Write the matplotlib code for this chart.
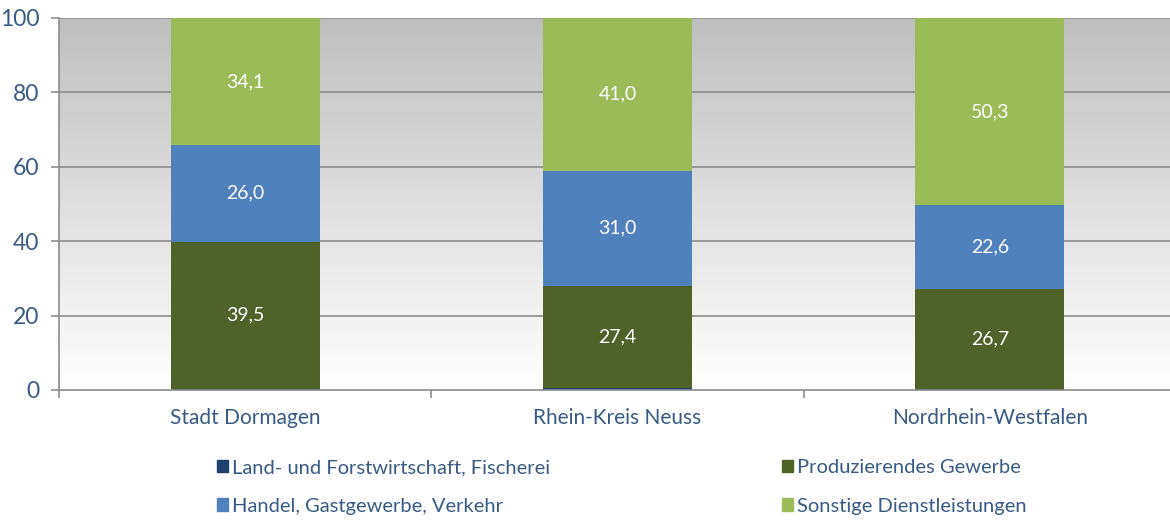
import numpy as np
import matplotlib
matplotlib.use("Agg")
import matplotlib.pyplot as plt
from matplotlib.patches import Patch
from matplotlib.colors import LinearSegmentedColormap

categories = ["Stadt Dormagen", "Rhein-Kreis Neuss", "Nordrhein-Westfalen"]
series_names = ["Land- und Forstwirtschaft, Fischerei", "Produzierendes Gewerbe",
                "Handel, Gastgewerbe, Verkehr", "Sonstige Dienstleistungen"]
land = [0.4, 0.6, 0.4]
produzierend = [39.5, 27.4, 26.7]
handel = [26.0, 31.0, 22.6]
sonstige = [34.1, 41.0, 50.3]
colors = ["#1f3f6e", "#4f6228", "#4f81bd", "#9bbb59"]
yticks = [0, 20, 40, 60, 80, 100]

plt.rcParams['font.family'] = ['Lato', 'DejaVu Sans']
label_color = "#3a5a86"

W, H = 1170, 520
fig = plt.figure(figsize=(W / 100, H / 100), dpi=100)
left_px, right_px, top_px, bot_px = 59, 1176, 18, 390
ax = fig.add_axes([left_px / W, 1 - bot_px / H, (right_px - left_px) / W, (bot_px - top_px) / H])

# gradient background
grad = np.linspace(1.0, 0.0, 256).reshape(-1, 1)
cmap = LinearSegmentedColormap.from_list("bg", ["#ffffff", "#bfbfbf"])
ax.imshow(grad, extent=[-0.5, 2.5, 0, 100], aspect="auto", cmap=cmap, zorder=0,
          origin="upper")
ax.set_xlim(-0.5, 2.5)
ax.set_ylim(0, 100)

for y in yticks[1:]:
    ax.axhline(y, color="#8c8c8c", lw=1.2, zorder=1)

x = np.arange(len(categories))
width = 0.4
data = [land, produzierend, handel, sonstige]
bottom = np.zeros(len(categories))
for i, (vals, c) in enumerate(zip(data, colors)):
    ax.bar(x, vals, width, bottom=bottom, color=c, zorder=2, label=series_names[i])
    if i > 0:
        for xi, v, b in zip(x, vals, bottom):
            ax.text(xi, b + v / 2, f"{v:.1f}".replace(".", ","), ha="center", va="center",
                    color="white", fontsize=14, zorder=3)
    bottom += np.array(vals)

for s in ["top", "right"]:
    ax.spines[s].set_visible(False)
for s in ["left", "bottom"]:
    ax.spines[s].set_color("#8c8c8c")
    ax.spines[s].set_linewidth(1.2)

ax.set_yticks(yticks)
ax.set_yticklabels([str(v) for v in yticks], color=label_color, fontsize=16.5)
ax.tick_params(axis="y", length=6, color="#8c8c8c", width=1.2, pad=8)
ax.set_xticks(x)
ax.set_xticklabels(categories, color=label_color, fontsize=15)
ax.tick_params(axis="x", length=0, pad=13)
ax.set_xticks([-0.5, 0.5, 1.5, 2.5], minor=True)
ax.tick_params(axis="x", which="minor", length=6, color="#8c8c8c", width=1.2)

handles = [Patch(color=colors[0]), Patch(color=colors[2]), Patch(color=colors[1]), Patch(color=colors[3])]
labels = [series_names[0], series_names[2], series_names[1], series_names[3]]
fig.legend(handles, labels, ncol=2, loc="center left", bbox_to_anchor=(199 / W, 1 - 487 / H),
           frameon=False, fontsize=14.5, handlelength=0.55, handleheight=0.55, handletextpad=0.2,
           columnspacing=11.5, labelspacing=1.05, labelcolor=label_color)

fig.savefig("out.png", dpi=100)
